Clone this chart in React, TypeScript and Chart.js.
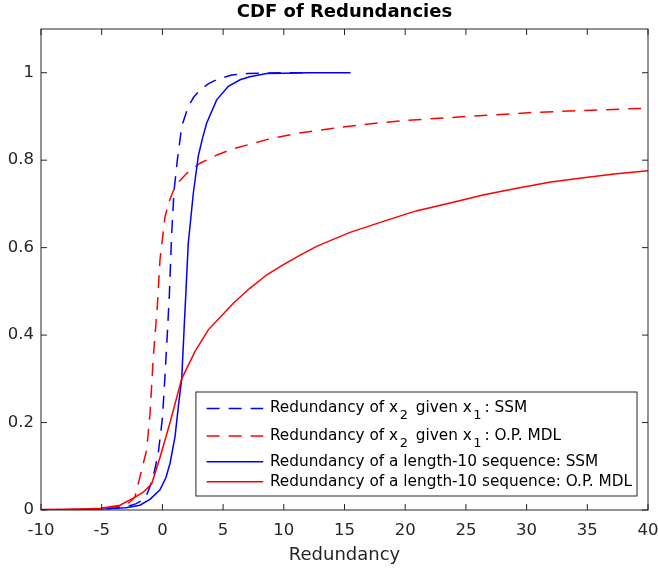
import React, { useEffect, useRef } from 'react';
import Chart from 'chart.js/auto';

const FONT = '"DejaVu Sans", "Liberation Sans", sans-serif';

const xTickValues = [-10, -5, 0, 5, 10, 15, 20, 25, 30, 35, 40];
const xTickLabels = ['-10', '-5', '0', '5', '10', '15', '20', '25', '30', '35', '40'];
const yTickValues = [0, 0.2, 0.4, 0.6, 0.8, 1];
const yTickLabels = ['0', '0.2', '0.4', '0.6', '0.8', '1'];

const seriesLabels = [
  'Redundancy of x₂ given x₁: SSM',
  'Redundancy of x₂ given x₁: O.P. MDL',
  'Redundancy of a length-10 sequence: SSM',
  'Redundancy of a length-10 sequence: O.P. MDL',
];

// x2 given x1 : SSM (blue dashed)
const pairSsmX = [-10, -7, -5, -4, -3, -2.2, -1.6, -1.3, -0.8, -0.34, 0, 0.2, 0.4, 0.57, 0.76, 0.96, 1.23, 1.59, 2.13, 2.6, 3.1, 3.8, 4.47, 5.7, 7, 8.5, 10, 12];
const pairSsmY = [0, 0.0005, 0.002, 0.004, 0.007, 0.014, 0.023, 0.034, 0.07, 0.13, 0.21, 0.3, 0.4, 0.49, 0.63, 0.73, 0.8, 0.877, 0.923, 0.945, 0.96, 0.975, 0.984, 0.995, 0.998, 0.999, 1, 1];

// x2 given x1 : O.P. MDL (red dashed)
const pairMdlX = [-10, -7, -5, -4, -3, -2.6, -2.26, -1.85, -1.3, -1.02, -0.75, -0.42, -0.2, 0.21, 0.55, 0.9, 1.4, 2.0, 3.1, 4.5, 5.84, 8.6, 11, 14.1, 17, 19.6, 25.1, 30.5, 36, 40, 45];
const pairMdlY = [0, 0.001, 0.003, 0.006, 0.012, 0.02, 0.03, 0.076, 0.137, 0.22, 0.35, 0.465, 0.572, 0.67, 0.705, 0.73, 0.752, 0.77, 0.793, 0.812, 0.826, 0.847, 0.861, 0.873, 0.883, 0.89, 0.9, 0.909, 0.915, 0.919, 0.923];

// length-10 sequence : SSM (blue solid)
const seqSsmX = [-10, -7, -5, -3, -1.85, -1, -0.2, 0.3, 0.63, 1.04, 1.31, 1.59, 1.78, 1.94, 2.13, 2.35, 2.55, 2.96, 3.3, 3.65, 4.47, 5.43, 6.4, 7.2, 8.6, 10, 12, 15.5];
const seqSsmY = [0, 0.0005, 0.002, 0.005, 0.011, 0.025, 0.046, 0.075, 0.107, 0.168, 0.236, 0.3, 0.41, 0.5, 0.61, 0.67, 0.725, 0.81, 0.85, 0.885, 0.938, 0.969, 0.984, 0.991, 0.998, 0.999, 1, 1];

// length-10 sequence : O.P. MDL (red solid)
const seqMdlX = [-10, -8, -6, -5.1, -3.5, -2.4, -1.6, -0.88, -0.2, 0.63, 1.59, 2.68, 3.78, 4.74, 5.84, 7.2, 8.6, 9.97, 11.35, 12.7, 15.45, 18.2, 20.9, 23.7, 26.5, 29.2, 32, 34.7, 37.4, 40, 42];
const seqMdlY = [0.001, 0.002, 0.003, 0.004, 0.011, 0.027, 0.04, 0.06, 0.12, 0.2, 0.3, 0.362, 0.412, 0.44, 0.473, 0.507, 0.538, 0.561, 0.583, 0.603, 0.635, 0.66, 0.684, 0.702, 0.721, 0.736, 0.75, 0.76, 0.769, 0.776, 0.781];

const toPoints = (xs: number[], ys: number[]) => xs.map((x, i) => ({ x, y: ys[i] }));

const SUBS = '₀₁₂₃₄₅₆₇₈₉';
function parseLabel(label: string) {
  const segs: { text: string; sub: boolean }[] = [];
  for (const ch of label) {
    const idx = SUBS.indexOf(ch);
    const sub = idx >= 0;
    const c = sub ? String(idx) : ch;
    const last = segs[segs.length - 1];
    if (last && last.sub === sub) last.text += c;
    else segs.push({ text: c, sub });
  }
  return segs;
}

const boxPlugin = {
  id: 'matlabBox',
  afterDatasetsDraw(chart: any) {
    const { ctx, chartArea, scales } = chart;
    const { left, right, top, bottom } = chartArea;
    const xs = scales.x;
    const ys = scales.y;
    const tl = 6;
    ctx.save();
    ctx.strokeStyle = '#262626';
    ctx.lineWidth = 1;
    ctx.setLineDash([]);
    ctx.strokeRect(left, top, right - left, bottom - top);
    ctx.beginPath();
    for (const t of xs.ticks) {
      const px = xs.getPixelForValue(t.value);
      ctx.moveTo(px, bottom);
      ctx.lineTo(px, bottom - tl);
      ctx.moveTo(px, top);
      ctx.lineTo(px, top + tl);
    }
    for (const t of ys.ticks) {
      const py = ys.getPixelForValue(t.value);
      ctx.moveTo(left, py);
      ctx.lineTo(left + tl, py);
      ctx.moveTo(right, py);
      ctx.lineTo(right - tl, py);
    }
    ctx.stroke();
    ctx.restore();
  },
};

const legendPlugin = {
  id: 'matlabLegend',
  afterDraw(chart: any) {
    const { ctx, chartArea } = chart;
    const datasets = chart.data.datasets;
    const mainFont = `15.3px ${FONT}`;
    const subFont = `13px ${FONT}`;
    const subBefore = 1.5;
    const subAfter = 3;
    const subDrop = 7.5;
    const rowOffsets = [16.5, 44, 69.7, 89.7];
    const boxH = 104;
    const padL = 10.7;
    const sampleLen = 56.6;
    const gap = 6.7;
    const padR = 5;
    ctx.save();
    const widthOf = (label: string) => {
      let w = 0;
      for (const s of parseLabel(label)) {
        ctx.font = s.sub ? subFont : mainFont;
        w += ctx.measureText(s.text).width + (s.sub ? subBefore + subAfter : 0);
      }
      return w;
    };
    let maxW = 0;
    datasets.forEach((d: any) => { maxW = Math.max(maxW, widthOf(d.label)); });
    const boxW = padL + sampleLen + gap + maxW + padR;
    const right = chartArea.right - 11;
    const bottom = chartArea.bottom - 14;
    const left = right - boxW;
    const top = bottom - boxH;
    ctx.fillStyle = '#ffffff';
    ctx.fillRect(left, top, boxW, boxH);
    ctx.strokeStyle = '#262626';
    ctx.lineWidth = 1;
    ctx.setLineDash([]);
    ctx.strokeRect(left, top, boxW, boxH);
    datasets.forEach((d: any, i: number) => {
      const y = top + rowOffsets[i];
      ctx.beginPath();
      ctx.strokeStyle = d.borderColor;
      ctx.lineWidth = d.borderWidth;
      ctx.setLineDash(d.borderDash || []);
      ctx.moveTo(left + padL, y);
      ctx.lineTo(left + padL + sampleLen, y);
      ctx.stroke();
      ctx.setLineDash([]);
      let x = left + padL + sampleLen + gap;
      ctx.fillStyle = '#000000';
      ctx.textBaseline = 'middle';
      ctx.textAlign = 'left';
      for (const s of parseLabel(d.label)) {
        if (s.sub) {
          ctx.font = subFont;
          x += subBefore;
          ctx.fillText(s.text, x, y + subDrop);
          x += ctx.measureText(s.text).width + subAfter;
        } else {
          ctx.font = mainFont;
          ctx.fillText(s.text, x, y);
          x += ctx.measureText(s.text).width;
        }
      }
    });
    ctx.restore();
  },
};

export default function App() {
  const ref = useRef<HTMLCanvasElement | null>(null);
  useEffect(() => {
    if (!ref.current) return;
    const dash = [13, 9];
    const chart = new Chart(ref.current, {
      type: 'line',
      data: {
        datasets: [
          { label: seriesLabels[0], data: toPoints(pairSsmX, pairSsmY), borderColor: '#0000ff', borderWidth: 1.5, borderDash: dash, order: 4 },
          { label: seriesLabels[1], data: toPoints(pairMdlX, pairMdlY), borderColor: '#ff0000', borderWidth: 1.5, borderDash: dash, order: 3 },
          { label: seriesLabels[2], data: toPoints(seqSsmX, seqSsmY), borderColor: '#0000ff', borderWidth: 1.5, order: 2 },
          { label: seriesLabels[3], data: toPoints(seqMdlX, seqMdlY), borderColor: '#ff0000', borderWidth: 1.5, order: 1 },
        ] as any,
      },
      options: {
        animation: false,
        responsive: false,
        devicePixelRatio: 1,
        parsing: false as any,
        elements: { point: { radius: 0, hoverRadius: 0 }, line: { tension: 0, fill: false } },
        layout: { padding: { left: 0, right: 10, top: 0, bottom: 0 } },
        events: [],
        plugins: {
          legend: { display: false },
          tooltip: { enabled: false },
          title: {
            display: true,
            text: 'CDF of Redundancies',
            color: '#000000',
            font: { family: FONT, size: 18, weight: 'bold' },
            padding: { top: 2, bottom: 5.4 },
            fullSize: false,
          },
        },
        scales: {
          x: {
            type: 'linear',
            min: -10,
            max: 40,
            grid: { display: false, drawTicks: false },
            border: { display: false },
            ticks: {
              color: '#262626',
              font: { family: FONT, size: 16.5 },
              padding: 11,
              maxRotation: 0,
              autoSkip: false,
              callback: (_v: any, i: number) => xTickLabels[i],
            },
            title: {
              display: true,
              text: 'Redundancy',
              color: '#262626',
              font: { family: FONT, size: 18 },
              padding: { top: 0, bottom: 5 },
            },
            afterBuildTicks: (s: any) => { s.ticks = xTickValues.map((v) => ({ value: v })); },
            afterFit: (s: any) => { s.height = 61; s.paddingLeft = 0; s.paddingRight = 0; },
          },
          y: {
            type: 'linear',
            min: 0,
            max: 1.1,
            grid: { display: false, drawTicks: false },
            border: { display: false },
            ticks: {
              color: '#262626',
              font: { family: FONT, size: 16.5 },
              padding: 7,
              autoSkip: false,
              callback: (_v: any, i: number) => yTickLabels[i],
            },
            afterBuildTicks: (s: any) => { s.ticks = yTickValues.map((v) => ({ value: v })); },
            afterFit: (s: any) => { s.width = 41; s.paddingTop = 0; s.paddingBottom = 0; },
          },
        },
      } as any,
      plugins: [boxPlugin, legendPlugin],
    });
    return () => chart.destroy();
  }, []);
  return (
    <div style={{ position: 'absolute', left: 0, top: 0, width: 658, height: 571, background: '#ffffff' }}>
      <canvas ref={ref} width={658} height={571} style={{ display: 'block' }} />
    </div>
  );
}
